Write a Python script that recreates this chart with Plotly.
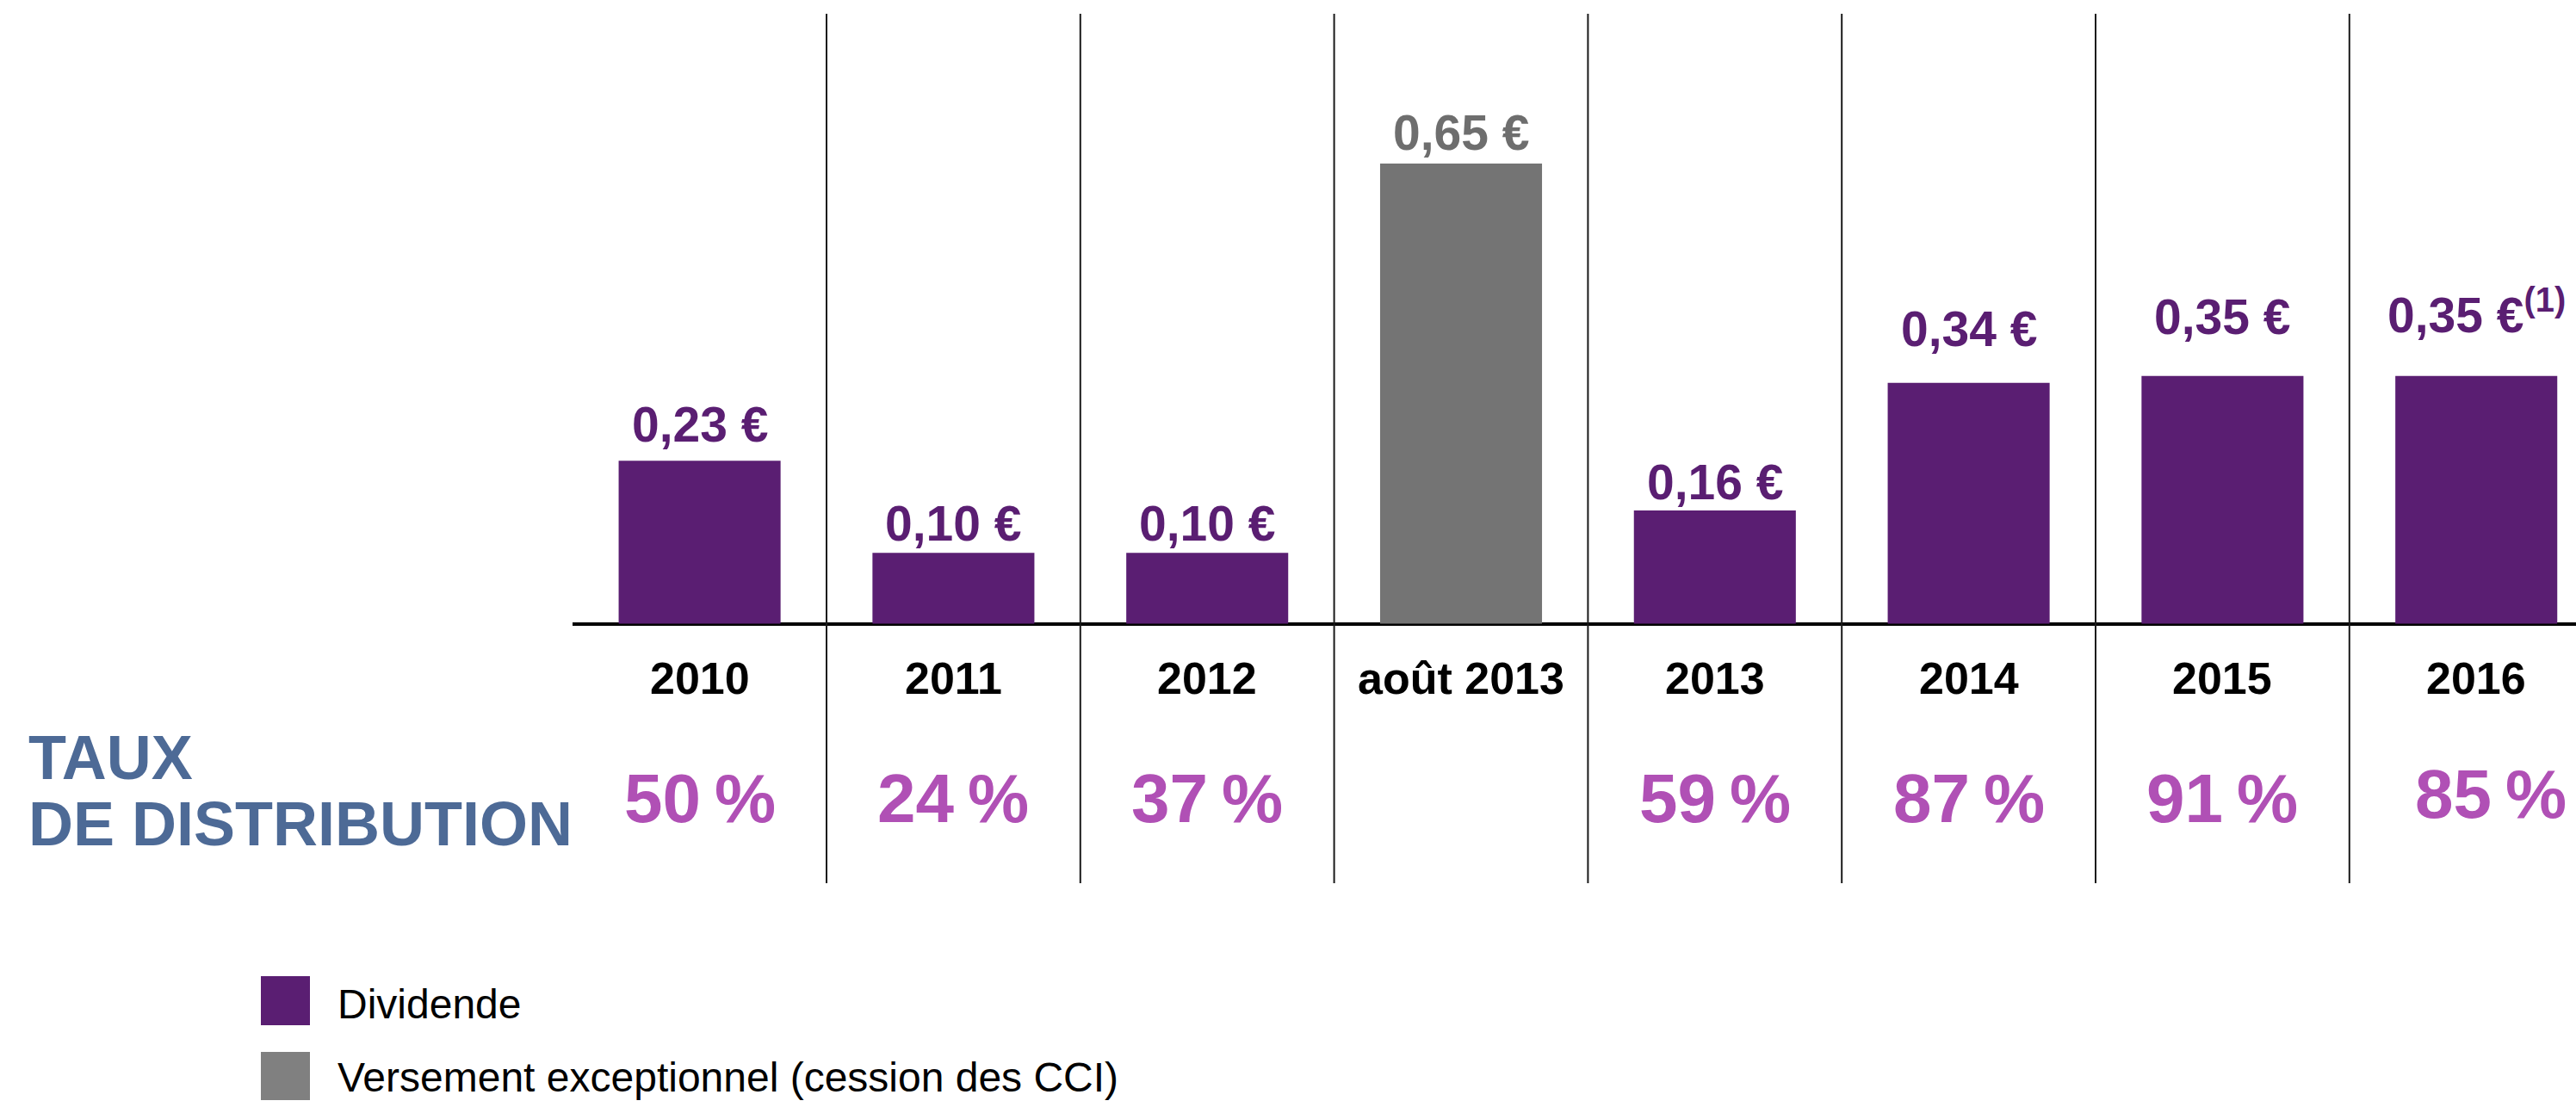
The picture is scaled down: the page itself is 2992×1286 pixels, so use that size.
import plotly.graph_objects as go

# ---------------- data ----------------
categories = ["2010", "2011", "2012", "août 2013", "2013", "2014", "2015", "2016"]
dividende = [0.23, 0.10, 0.10, None, 0.16, 0.34, 0.35, 0.35]
exceptionnel = [None, None, None, 0.65, None, None, None, None]
taux = [50, 24, 37, None, 59, 87, 91, 85]
footnotes = ["", "", "", "", "", "", "", "(1)"]
legend_names = ["Dividende", "Versement exceptionnel (cession des CCI)"]
row_title = ["TAUX", "DE DISTRIBUTION"]

# ---------------- styles / layout ----------------
W, H = 2992, 1286
FONT = "Liberation Sans, Arial, sans-serif"
PURPLE = "#5A1E72"
GREY_BAR = "#747474"
GREY_LABEL = "#6E6E6E"
GREY_LEG = "#808080"
PINK = "#B050B5"
BLUE = "#4D6A96"

PX_PER_UNIT = 822.5      # vertical scale
BASE_PX = 724.5          # baseline position from top
COL_W = 294.8            # category width in px
X0_PX = 665.2            # left edge of first category


def y_at(px_from_top):
    return (BASE_PX - px_from_top) / PX_PER_UNIT


label_gap = [21, 13, 13, 15, 12, 42, 48, 50]      # px between bar top and label baseline
pct_shift = [(0, 0)] * 7 + [(17, 5)]               # (dx, dy) nudges for percentage labels

fig = go.Figure()
fig.add_trace(go.Bar(x=categories, y=dividende, name=legend_names[0],
                     marker=dict(color=PURPLE, line=dict(width=0)), width=0.638,
                     showlegend=False, hoverinfo="skip"))
fig.add_trace(go.Bar(x=categories, y=exceptionnel, name=legend_names[1],
                     marker=dict(color=GREY_BAR, line=dict(width=0)), width=0.638,
                     showlegend=False, hoverinfo="skip"))

ann = []
shapes = []

for i, c in enumerate(categories):
    # value labels
    if dividende[i] is not None:
        v, col = dividende[i], PURPLE
    else:
        v, col = exceptionnel[i], GREY_LABEL
    txt = f"{v:.2f}".replace(".", ",") + " €"
    if footnotes[i]:
        txt += f"<sup>{footnotes[i]}</sup>"
    ann.append(dict(x=i, y=v, xref="x", yref="y", text=txt, showarrow=False,
                    yanchor="bottom", yshift=label_gap[i] - 13,
                    font=dict(family=FONT, size=57, color=col, weight="bold")))
    # year labels
    ann.append(dict(x=i, y=0, xref="x", yref="y", text=c, showarrow=False,
                    yanchor="middle", yshift=-(788 - BASE_PX),
                    font=dict(family=FONT, size=52, color="black", weight="bold")))
    # percentages
    if taux[i] is not None:
        dx, dy = pct_shift[i]
        ann.append(dict(x=i, y=0, xref="x", yref="y", text=f"{taux[i]}\u2009%",
                        showarrow=False, yanchor="middle", xshift=dx,
                        yshift=-(927.5 - BASE_PX) + dy,
                        font=dict(family=FONT, size=80, color=PINK, weight="bold")))

# column separators
for i in range(len(categories) - 1):
    shapes.append(dict(type="line", xref="x", yref="y", x0=i + 0.5, x1=i + 0.5,
                       y0=y_at(16), y1=y_at(1026), line=dict(color="#1a1a1a", width=2)))

# row title
for txt, cy in zip(row_title, [879.5, 957]):
    ann.append(dict(x=31 / W, y=1 - cy / H, xref="paper", yref="paper", text=txt,
                    showarrow=False, xanchor="left", yanchor="middle",
                    font=dict(family=FONT, size=72, color=BLUE, weight="bold")))

# legend
for name, col, (sy0, sy1), ty in zip(legend_names, [PURPLE, GREY_LEG],
                                     [(1134, 1191), (1222, 1278)], [1166, 1251]):
    shapes.append(dict(type="rect", xref="paper", yref="paper",
                       x0=303 / W, x1=360 / W, y0=1 - sy1 / H, y1=1 - sy0 / H,
                       fillcolor=col, line=dict(width=0)))
    ann.append(dict(x=390 / W, y=1 - ty / H, xref="paper", yref="paper", text=name,
                    showarrow=False, xanchor="left", yanchor="middle",
                    font=dict(family=FONT, size=48, color="black")))

fig.update_layout(
    width=W, height=H, margin=dict(l=0, r=0, t=0, b=0, pad=0),
    paper_bgcolor="white", plot_bgcolor="white",
    barmode="overlay", showlegend=False,
    annotations=ann, shapes=shapes,
    xaxis=dict(type="category", categoryorder="array", categoryarray=categories,
               domain=[X0_PX / W, 1], range=[-0.5, -0.5 + (W - X0_PX) / COL_W],
               showticklabels=False, showgrid=False, zeroline=False, showline=False,
               ticks="", fixedrange=True),
    yaxis=dict(range=[y_at(H), y_at(0)], domain=[0, 1], showticklabels=False,
               showgrid=False, zeroline=True, zerolinecolor="black", zerolinewidth=3.5,
               ticks="", fixedrange=True, layer="above traces"),
)

fig.write_html("out.html", config={"displayModeBar": False},
               post_script="document.body.style.margin='0';document.body.style.overflow='hidden';")
